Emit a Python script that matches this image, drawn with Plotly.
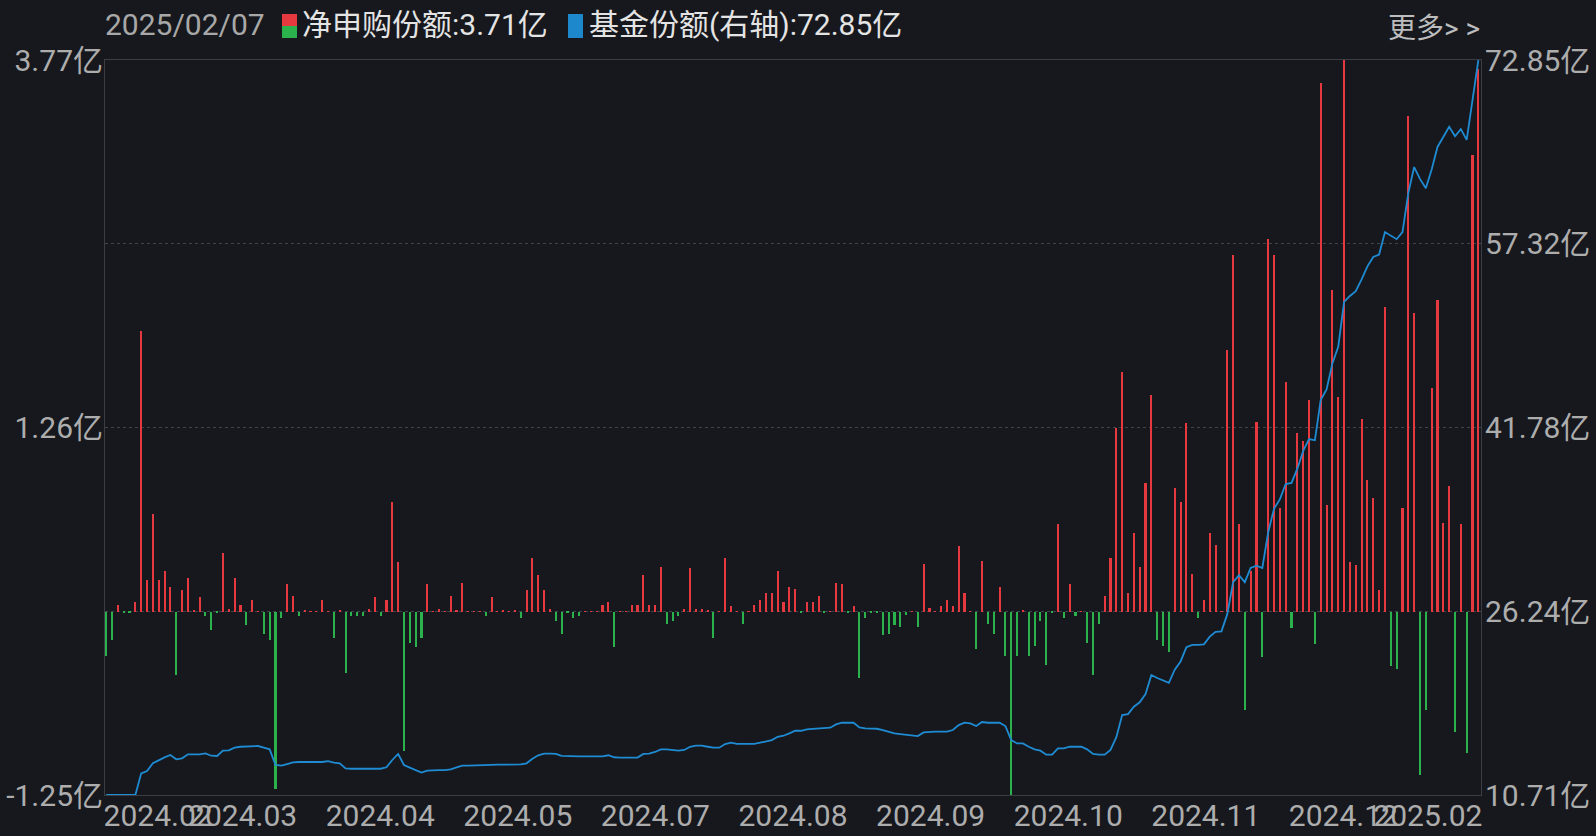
import plotly.graph_objects as go

# ---------------- data ----------------
date_label = "2025/02/07"
tick_labels = ["2024.02", "2024.03", "2024.04", "2024.05", "2024.07", "2024.08",
               "2024.09", "2024.10", "2024.11", "2024.12", "2025.02"]

net_subscription = [
    -0.30, -0.19, 0.05, -0.01, -0.01, 0.07, 1.92, 0.22, 0.67, 0.22,
    0.28, 0.17, -0.43, 0.15, 0.23, 0.01, 0.10, -0.03, -0.12, -0.01,
    0.40, 0.02, 0.23, 0.05, -0.09, 0.08, 0.005, -0.15, -0.19, -1.21,
    -0.04, 0.19, 0.11, -0.03, 0.01, 0.005, 0.005, 0.08, 0.005, -0.18,
    0.01, -0.42, -0.03, -0.03, -0.03, 0.02, 0.10, -0.03, 0.08, 0.75,
    0.34, -0.95, -0.21, -0.24, -0.18, 0.19, 0.005, 0.02, 0.005, 0.11,
    0.01, 0.20, 0.005, 0.005, 0.005, -0.03, 0.10, 0.005, 0.01, 0.005,
    0.01, -0.04, 0.15, 0.37, 0.25, 0.15, 0.02, -0.06, -0.15, -0.01,
    -0.04, -0.03, 0.003, 0.003, 0.003, 0.05, 0.07, -0.24, 0.003, 0.003,
    0.05, 0.05, 0.25, 0.05, 0.05, 0.31, -0.08, -0.06, -0.03, 0.02,
    0.30, 0.02, 0.02, 0.01, -0.18, 0.003, 0.37, 0.04, 0.003, -0.08,
    0.003, 0.05, 0.08, 0.13, 0.13, 0.28, 0.07, 0.17, 0.16, -0.01,
    0.07, 0.07, 0.11, -0.01, 0.003, 0.20, 0.19, -0.01, 0.04, -0.45,
    -0.04, -0.01, -0.01, -0.16, -0.15, -0.09, -0.10, -0.02, 0.005, -0.10,
    0.33, 0.03, 0.003, 0.04, 0.08, 0.04, 0.45, 0.13, 0.003, -0.25,
    0.35, -0.08, -0.15, 0.17, -0.30, -1.25, -0.30, 0.01, -0.30, -0.23,
    -0.06, -0.36, -0.01, 0.60, -0.04, 0.19, -0.03, 0.003, -0.21, -0.43,
    -0.08, 0.11, 0.37, 1.26, 1.64, 0.13, 0.54, 0.31, 0.88, 1.48,
    -0.19, -0.23, -0.27, 0.85, 0.75, 1.29, 0.26, -0.04, 0.085, 0.54,
    0.46, 0.003, 1.79, 2.44, 0.60, -0.67, 0.28, 1.30, -0.31, 2.55,
    2.44, 0.71, 1.57, -0.11, 1.22, 1.17, 1.45, -0.22, 3.61, 0.73,
    2.20, 1.47, 3.77, 0.34, 0.32, 1.32, 0.90, 0.78, 0.15, 2.08,
    -0.37, -0.39, 0.71, 3.39, 2.04, -1.11, -0.67, 1.53, 2.13, 0.61,
    0.86, -0.82, 0.60, -0.96, 3.12, 3.71,
]

fund_shares = [
    10.72, 10.71, 10.71, 10.71, 10.71, 10.71, 12.54, 12.74, 13.39, 13.67,
    13.89, 14.09, 13.73, 13.81, 14.15, 14.15, 14.15, 14.23, 14.03, 14.01,
    14.46, 14.49, 14.71, 14.79, 14.79, 14.79, 14.85, 14.71, 14.57, 13.25,
    13.19, 13.33, 13.47, 13.50, 13.50, 13.50, 13.50, 13.50, 13.58, 13.45,
    13.39, 12.96, 12.93, 12.93, 12.93, 12.93, 12.95, 12.93, 13.05, 13.67,
    14.18, 13.25, 13.02, 12.82, 12.60, 12.77, 12.82, 12.82, 12.82, 12.88,
    13.05, 13.19, 13.20, 13.20, 13.22, 13.22, 13.25, 13.27, 13.28, 13.28,
    13.30, 13.30, 13.39, 13.78, 14.07, 14.21, 14.21, 14.18, 14.01, 13.98,
    13.98, 13.98, 13.98, 13.98, 13.98, 13.98, 14.07, 13.90, 13.87, 13.87,
    13.87, 13.87, 14.18, 14.21, 14.35, 14.57, 14.57, 14.52, 14.46, 14.52,
    14.79, 14.88, 14.88, 14.79, 14.71, 14.71, 15.02, 15.13, 15.04, 15.04,
    15.04, 15.04, 15.13, 15.27, 15.35, 15.63, 15.72, 15.92, 16.14, 16.14,
    16.26, 16.30, 16.34, 16.37, 16.40, 16.68, 16.82, 16.82, 16.82, 16.43,
    16.34, 16.32, 16.31, 16.20, 16.03, 15.92, 15.86, 15.80, 15.80, 15.69,
    16.00, 16.06, 16.06, 16.06, 16.06, 16.20, 16.62, 16.82, 16.76, 16.54,
    16.88, 16.82, 16.82, 16.82, 16.54, 15.35, 15.07, 15.07, 14.79, 14.57,
    14.46, 14.12, 14.12, 14.65, 14.65, 14.79, 14.79, 14.79, 14.57, 14.18,
    14.12, 14.12, 14.52, 15.60, 17.47, 17.55, 18.17, 18.55, 19.25, 20.85,
    20.60, 20.40, 20.20, 21.30, 22.00, 23.20, 23.40, 23.40, 23.45, 24.10,
    24.50, 24.55, 26.00, 28.70, 29.30, 28.70, 29.90, 30.10, 29.90, 32.90,
    34.90, 35.70, 37.00, 37.10, 38.30, 39.80, 40.80, 40.70, 44.10, 45.00,
    47.20, 48.60, 52.40, 52.90, 53.30, 54.30, 55.40, 56.20, 56.40, 58.30,
    58.00, 57.70, 58.30, 61.60, 63.80, 62.80, 62.00, 63.60, 65.50, 66.40,
    67.20, 66.40, 67.00, 66.10, 69.30, 72.85,
]

left_tick_values = [3.77, 1.26, -1.25]
left_tick_labels = ["3.77亿", "1.26亿", "-1.25亿"]
right_tick_values = [72.85, 57.32, 41.78, 26.24, 10.71]
right_tick_labels = ["72.85亿", "57.32亿", "41.78亿", "26.24亿", "10.71亿"]

# ---------------- styling ----------------
BG = "#16181d"
RED = "#e5383f"
GREEN = "#2bb24c"
BLUE = "#1f8bd3"
TXT = "#adadad"
FONT = "Roboto, 'Noto Sans CJK SC', sans-serif"

W, H = 1596, 836
L, R, T, B = 105, 1481, 60, 795

def px(x):
    return (x - L) / (R - L)

def py(y):
    return (B - y) / (B - T)

n = len(net_subscription)
x = list(range(n))
bar_colors = [RED if v >= 0 else GREEN for v in net_subscription]

fig = go.Figure()
fig.add_trace(go.Bar(x=x, y=net_subscription, marker_color=bar_colors,
                     marker_line_width=0, width=0.36, yaxis="y", showlegend=False))
fig.add_trace(go.Scatter(x=x, y=fund_shares[:n], mode="lines",
                         line=dict(color=BLUE, width=1.8), yaxis="y2", showlegend=False))

xmin, xmax = -0.2, (n - 1) + 0.45
span = xmax - xmin
label_half = 9.1
tickvals = []
for i in range(len(tick_labels)):
    pos = xmin + span * i / (len(tick_labels) - 1)
    if i == 0:
        pos = xmin + label_half
    elif i == len(tick_labels) - 1:
        pos = xmax - label_half
    tickvals.append(pos)

fig.update_layout(
    width=W, height=H,
    paper_bgcolor=BG, plot_bgcolor=BG,
    margin=dict(l=L, r=W - R, t=T, b=H - B, autoexpand=False),
    bargap=0,
    font=dict(family=FONT, color=TXT, size=30),
    xaxis=dict(range=[xmin, xmax], tickvals=tickvals, ticktext=tick_labels,
               tickangle=0, showgrid=False, zeroline=False,
               showline=True, mirror=True, linecolor="#3a3d44", linewidth=1,
               ticks="", ticklabelstandoff=-6, tickfont=dict(size=30, color=TXT)),
    yaxis=dict(range=[left_tick_values[-1], left_tick_values[0]],
               tickvals=left_tick_values, ticktext=left_tick_labels,
               showgrid=False, zeroline=False, showline=True, mirror=True,
               linecolor="#3a3d44", linewidth=1, ticks="", ticklabelstandoff=-5,
               tickfont=dict(size=30, color=TXT)),
    yaxis2=dict(range=[right_tick_values[-1], right_tick_values[0]],
                overlaying="y", side="right",
                tickvals=right_tick_values, ticktext=right_tick_labels,
                showgrid=True, gridcolor="#3f434a", griddash="dot", gridwidth=1,
                zeroline=False, ticks="", ticklabelstandoff=3,
                tickfont=dict(size=30, color=TXT)),
)

# header
head_y = py(25)
fig.add_annotation(xref="paper", yref="paper", x=px(103), y=head_y, text=date_label,
                   showarrow=False, xanchor="left", yanchor="middle",
                   font=dict(size=30, color="#a8a8a8", family=FONT))
fig.add_annotation(xref="paper", yref="paper", x=px(300), y=head_y,
                   text=f"净申购份额:{net_subscription[-1]:.2f}亿",
                   showarrow=False, xanchor="left", yanchor="middle",
                   font=dict(size=30, color="#e4e4e4", family=FONT))
fig.add_annotation(xref="paper", yref="paper", x=px(587), y=head_y,
                   text=f"基金份额(右轴):{fund_shares[-1]:.2f}亿",
                   showarrow=False, xanchor="left", yanchor="middle",
                   font=dict(size=30, color="#e4e4e4", family=FONT))
fig.add_annotation(xref="paper", yref="paper", x=px(1482), y=py(28),
                   text="更多&gt; &gt;", showarrow=False, xanchor="right", yanchor="middle",
                   font=dict(size=28, color="#bdbdbd", family=FONT))

fig.add_shape(type="rect", xref="paper", yref="paper", x0=px(282), x1=px(297),
              y0=py(14), y1=py(26), fillcolor=RED, line_width=0, layer="above")
fig.add_shape(type="rect", xref="paper", yref="paper", x0=px(282), x1=px(297),
              y0=py(26), y1=py(38), fillcolor=GREEN, line_width=0, layer="above")
fig.add_shape(type="rect", xref="paper", yref="paper", x0=px(568), x1=px(583),
              y0=py(14), y1=py(38), fillcolor="#1e88cc", line_width=0, layer="above")

fig.write_html("out.html",
               config={"displayModeBar": False},
               post_script="document.body.style.margin='0px';"
                           "document.body.style.overflow='hidden';"
                           "document.body.style.background='" + BG + "';")
